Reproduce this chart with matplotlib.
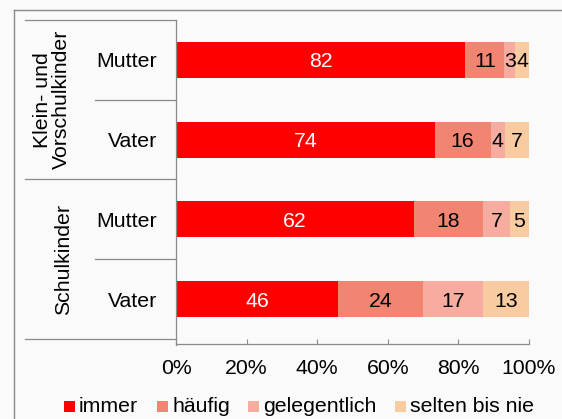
import matplotlib.pyplot as plt
from matplotlib.patches import Rectangle
import numpy as np

plt.rcParams['font.family'] = ['Liberation Sans', 'DejaVu Sans']

# data (rows are normalised to 100 %, as in a 100% stacked bar chart)
row_labels = ['Mutter', 'Vater', 'Mutter', 'Vater']
groups = ['Klein- und\nVorschulkinder', 'Schulkinder']
series = ['immer', 'häufig', 'gelegentlich', 'selten bis nie']
immer = [82, 74, 62, 46]
haeufig = [11, 16, 18, 24]
gelegentlich = [3, 4, 7, 17]
selten = [4, 7, 5, 13]
colors = ['#ff0000', '#f28572', '#f6ada0', '#f9cba0']
label_colors = ['white', 'black', 'black', 'black']
xticks = [0, 20, 40, 60, 80, 100]

W, H = 562, 419
BG = '#fafafa'
GRAY = '#8a8a8a'
FS = 15.3


def px(x, y):
    return x / W, 1 - y / H


fig = plt.figure(figsize=(W / 100, H / 100), dpi=100, facecolor=BG)
ax = fig.add_axes([176 / W, 1 - 339 / H, 353 / W, 319 / H])
ax.set_facecolor(BG)

data = np.array([immer, haeufig, gelegentlich, selten], dtype=float)
shares = data / data.sum(axis=0) * 100
y = np.arange(len(row_labels))
left = np.zeros(len(row_labels))
for vals, shr, col, tcol in zip(data, shares, colors, label_colors):
    bars = ax.barh(y, shr, left=left, height=0.45, color=col, linewidth=0)
    for b, v in zip(bars, vals):
        ax.text(b.get_x() + b.get_width() / 2, b.get_y() + b.get_height() / 2,
                f'{v:.0f}', ha='center', va='center_baseline', color=tcol, fontsize=FS)
    left += shr

ax.set_xlim(0, 100)
ax.set_ylim(3.5, -0.5)
ax.set_xticks(xticks)
ax.set_xticklabels([f'{t}%' for t in xticks])
ax.set_yticks([])
ax.tick_params(axis='x', direction='in', length=3.6, color=GRAY, pad=10.5, labelsize=FS)

for s in ['top', 'right', 'left']:
    ax.spines[s].set_visible(False)
ax.spines['bottom'].set_position(('outward', 3.6))
ax.spines['bottom'].set_color(GRAY)
ax.spines['bottom'].set_linewidth(0.9)

# category axis frame
tr = ax.get_yaxis_transform()
x_far = (25 - 176) / 353
x_near = (95 - 176) / 353
for yy, x0 in [(-0.5, x_far), (0.5, x_near), (1.5, x_far), (2.5, x_near), (3.5, x_far)]:
    ax.plot([x0, 0], [yy, yy], transform=tr, color=GRAY, lw=0.9, clip_on=False)
ax.plot([0, 0], [1, -6 / 319], transform=ax.transAxes, color=GRAY, lw=0.9, clip_on=False)

for i, lab in enumerate(row_labels):
    ax.text((157 - 176) / 353, i, lab, transform=tr, ha='right', va='center_baseline',
            fontsize=FS)
ax.text((52 - 176) / 353, 0.5, groups[0], transform=tr, ha='center', va='center',
        rotation=90, fontsize=FS, linespacing=1.0)
ax.text((64 - 176) / 353, 2.5, groups[1], transform=tr, ha='center', va='center',
        rotation=90, fontsize=FS)

# legend
leg_x = [64, 157, 248, 395]
for lx, col, name in zip(leg_x, colors, series):
    fig.add_artist(Rectangle(px(lx, 412), 11 / W, 11 / H, transform=fig.transFigure,
                             color=col, lw=0))
    fig.text(*px(lx + 15, 406), name, ha='left', va='center', fontsize=FS)

# chart area border
fig.add_artist(plt.Line2D([14 / W, 14 / W], [0, 1 - 10 / H], color=GRAY, lw=1))
fig.add_artist(plt.Line2D([14 / W, 1], [1 - 10 / H, 1 - 10 / H], color=GRAY, lw=1))

fig.savefig('out.png', dpi=100, facecolor=BG)
